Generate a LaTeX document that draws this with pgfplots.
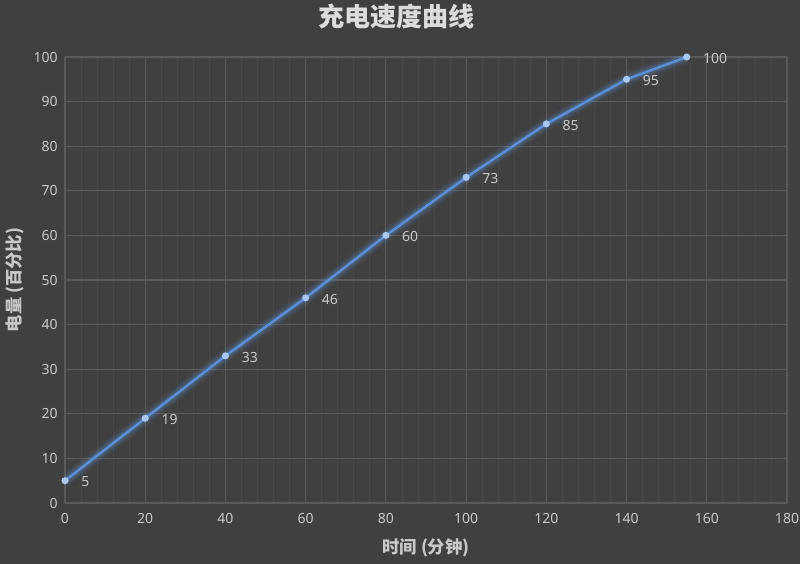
\documentclass[border=0pt]{standalone}
\usepackage{pgfplots}
\pgfplotsset{compat=1.18}
\usepackage{fontspec}
\setmainfont{Noto Sans}
\newfontfamily\cjk{Noto Sans CJK SC}
\definecolor{bg}{HTML}{404040}
\definecolor{gridc}{HTML}{5A5A5A}
\definecolor{minorc}{HTML}{484848}
\definecolor{txt}{HTML}{C8C8C8}
\definecolor{titlec}{HTML}{DCDCDC}
\definecolor{line}{HTML}{5B8FD6}
\definecolor{markc}{HTML}{A8C8F0}

\pgfplotstableread{
t   q
0   5
20  19
40  33
60  46
80  60
100 73
120 85
140 95
155 100
}\charge

\begin{document}
\begin{tikzpicture}[x=1pt,y=1pt]
\useasboundingbox (0,0) rectangle (600,423);
\fill[bg] (0,0) rectangle (600,423);
\begin{axis}[
    at={(48.75pt,45.75pt)}, anchor=origin,
    scale only axis,
    width=541.5pt, height=334.5pt,
    xmin=0, xmax=180, ymin=0, ymax=100,
    xtick={0,20,...,180}, ytick={0,10,...,100},
    minor x tick num=4,
    grid=both,
    major grid style={gridc, line width=0.8pt},
    minor x grid style={minorc, line width=0.6pt},
    minor y grid style={draw=none},
    axis line style={draw=none},
    axis background/.style={fill=bg},
    tick style={draw=none},
    tick label style={txt, font=\fontsize{10.5}{12}\selectfont},
    /pgf/number format/assume math mode=true,
    xticklabel style={yshift=-4pt},
    yticklabel style={xshift=-2pt},
    title={\cjk\bfseries 充电速度曲线},
    title style={titlec, font=\fontsize{19.5}{22}\selectfont, at={(0.5,1)}, anchor=center, xshift=-22pt, yshift=24pt},
    xlabel={\cjk\bfseries 时间 (分钟)},
    xlabel style={txt, font=\fontsize{13}{15}\selectfont, at={(0.5,0)}, anchor=center, yshift=-33.5pt},
    ylabel={\cjk\bfseries 电量 (百分比)},
    ylabel style={txt, font=\fontsize{13}{15}\selectfont, at={(0,0.5)}, anchor=center, yshift=37.5pt},
]
\addplot[line, line width=10pt, opacity=0.08, forget plot] table[x=t,y=q] {\charge};
\addplot[line, line width=7pt, opacity=0.12, forget plot] table[x=t,y=q] {\charge};
\addplot[line, line width=4.5pt, opacity=0.22, forget plot] table[x=t,y=q] {\charge};
\addplot[
    line, line width=1.8pt,
    mark=*, mark size=1.7pt,
    mark options={fill=markc, draw=markc},
    nodes near coords,
    point meta=explicit symbolic,
    every node near coord/.append style={txt, anchor=west, xshift=8pt, yshift=-1pt, font=\fontsize{10.5}{12}\selectfont},
] table[x=t,y=q,meta=q] {\charge};
\end{axis}
\end{tikzpicture}
\end{document}
